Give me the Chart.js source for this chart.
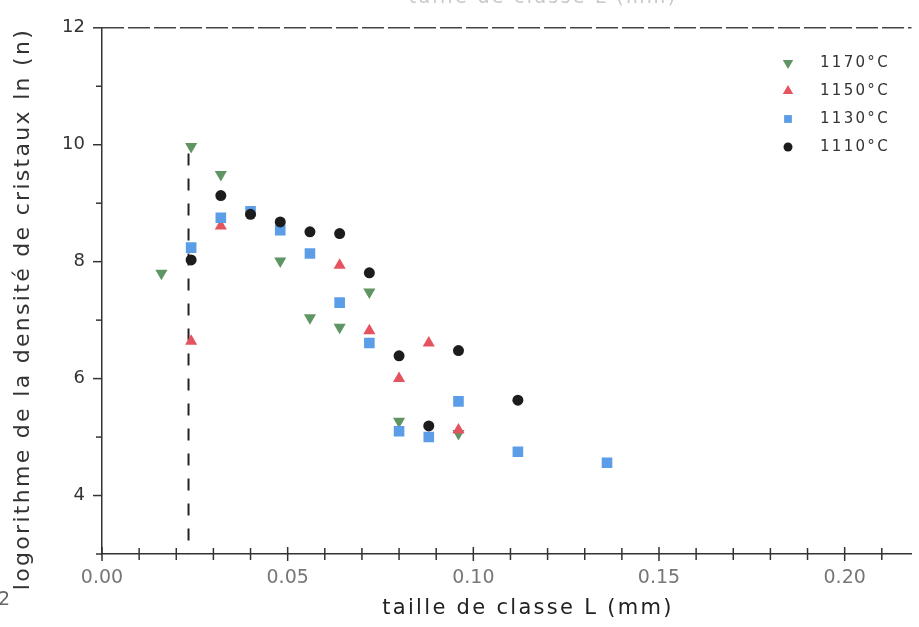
<!DOCTYPE html>
<html>
<head>
<meta charset="utf-8">
<script src="https://cdn.jsdelivr.net/npm/chart.js@4.4.0/dist/chart.umd.min.js"></script>
<style>
  html, body { margin: 0; padding: 0; background: #fff; }
  #wrap { width: 919px; height: 627px; }
</style>
</head>
<body>
<div id="wrap"><canvas id="csdChart"></canvas></div>
<script>
// class size L (mm) and ln(n) for each run temperature
var L_1170 = [0.016, 0.024, 0.032, 0.048, 0.056, 0.064, 0.072, 0.080, 0.096];
var n_1170 = [7.80, 9.97, 9.49, 8.01, 7.04, 6.88, 7.48, 5.27, 5.06];

var L_1150 = [0.024, 0.032, 0.064, 0.072, 0.080, 0.088, 0.096];
var n_1150 = [6.64, 8.61, 7.94, 6.82, 6.00, 6.61, 5.12];

var L_1130 = [0.024, 0.032, 0.040, 0.048, 0.056, 0.064, 0.072, 0.080, 0.088, 0.096, 0.112, 0.136];
var n_1130 = [8.24, 8.75, 8.86, 8.54, 8.14, 7.30, 6.61, 5.10, 5.00, 5.61, 4.75, 4.56];

var L_1110 = [0.024, 0.032, 0.040, 0.048, 0.056, 0.064, 0.072, 0.080, 0.088, 0.096, 0.112];
var n_1110 = [8.03, 9.13, 8.81, 8.68, 8.51, 8.48, 7.81, 6.39, 5.19, 6.48, 5.63];

// dashed guide line
var guideX = [0.0233, 0.0233];
var guideY = [9.85, 3];

var xMin = 0, xMax = 0.218;
var yMin = 3, yMax = 12;

var xTitle = "taille de classe L (mm)";
var yTitle = "logorithme de la densité de cristaux ln (n)";

function toPoints(xs, ys) {
    var pts = [];
    for (let i = 0; i < xs.length; i++) {
        pts.push({ x: xs[i], y: ys[i] });
    }
    return pts;
}

function isMajorX(v) {
    var h = Math.round(v * 100);
    return Math.abs(v * 100 - h) < 1e-6 && h % 5 === 0;
}

// tick marks, dashed top frame, titles and legend
const framePlugin = {
    id: "frame",
    beforeDraw(chart) {
        chart.ctx.letterSpacing = "0px";
    },
    afterDatasetsDraw(chart) {
        // x axis (z: 1) draws its labels after this
        chart.ctx.letterSpacing = "3px";
    },
    afterDraw(chart) {
        const ctx = chart.ctx;
        const area = chart.chartArea;
        const xs = chart.scales.x;
        const ys = chart.scales.y;

        function seg(x1, y1, x2, y2) {
            ctx.beginPath();
            ctx.moveTo(x1, y1);
            ctx.lineTo(x2, y2);
            ctx.stroke();
        }

        ctx.save();
        ctx.letterSpacing = "0px";
        ctx.strokeStyle = "#333";
        ctx.lineWidth = 1.5;

        ys.ticks.forEach((t) => {
            const py = ys.getPixelForValue(t.value);
            const len = t.value % 2 === 0 ? 9 : 6;
            seg(area.left - len, py, area.left, py);
        });

        xs.ticks.forEach((t) => {
            const px = xs.getPixelForValue(t.value);
            const h = isMajorX(t.value) ? 7 : 6;
            seg(px, area.bottom - h, px, area.bottom + h);
        });

        // top frame
        ctx.strokeStyle = "#444";
        ctx.setLineDash([22, 4]);
        seg(area.left, area.top, area.right, area.top);
        ctx.setLineDash([]);

        // axis titles
        ctx.letterSpacing = "2.3px";
        ctx.fillStyle = "#222";
        ctx.font = "21px 'DejaVu Sans'";
        ctx.textAlign = "center";
        ctx.textBaseline = "middle";
        ctx.fillText(xTitle, 528, 609);

        ctx.save();
        ctx.translate(23, 309);
        ctx.rotate(-Math.PI / 2);
        ctx.fillStyle = "#333";
        ctx.font = "22px 'DejaVu Sans'";
        ctx.fillText(yTitle, 0, 0);
        ctx.restore();

        // cut-off text from the neighbouring panel
        ctx.fillStyle = "#c8c8c8";
        ctx.font = "19px 'DejaVu Sans'";
        ctx.textBaseline = "alphabetic";
        ctx.fillText(xTitle, 543, 3);
        ctx.letterSpacing = "0px";
        ctx.fillStyle = "#666";
        ctx.textAlign = "left";
        ctx.textBaseline = "middle";
        ctx.fillText("2", -2, 600);

        // legend
        const rows = [63, 91, 119, 147];
        const sizes = [6, 6, 5.5, 4.5];
        ctx.font = "15px 'DejaVu Sans'";
        ctx.letterSpacing = "2.3px";
        chart.data.datasets.slice(0, 4).forEach((ds, i) => {
            ctx.fillStyle = ds.backgroundColor;
            ctx.strokeStyle = ds.backgroundColor;
            Chart.helpers.drawPoint(ctx, {
                pointStyle: ds.pointStyle,
                radius: sizes[i],
                rotation: ds.rotation || 0,
                borderWidth: 0
            }, 788, rows[i]);
            ctx.fillStyle = "#333";
            ctx.fillText(ds.label, 820, rows[i]);
        });

        ctx.restore();
        ctx.letterSpacing = "0px";
    }
};

let ctx = document.getElementById("csdChart").getContext("2d");

const chartData = {
    datasets: [{
        label: "1170°C",
        data: toPoints(L_1170, n_1170),
        pointStyle: "triangle",
        rotation: 180,
        pointRadius: 7,
        backgroundColor: "#5f9463",
        borderColor: "#5f9463",
        borderWidth: 0,
        order: 4
    },
    {
        label: "1150°C",
        data: toPoints(L_1150, n_1150),
        pointStyle: "triangle",
        pointRadius: 7,
        backgroundColor: "#e4535e",
        borderColor: "#e4535e",
        borderWidth: 0,
        order: 3
    },
    {
        label: "1130°C",
        data: toPoints(L_1130, n_1130),
        pointStyle: "rect",
        pointRadius: 7.5,
        backgroundColor: "#5b9de6",
        borderColor: "#5b9de6",
        borderWidth: 0,
        order: 2
    },
    {
        label: "1110°C",
        data: toPoints(L_1110, n_1110),
        pointStyle: "circle",
        pointRadius: 5.5,
        backgroundColor: "#1c1c1c",
        borderColor: "#1c1c1c",
        borderWidth: 0,
        order: 1
    },
    {
        type: "line",
        label: "guide",
        data: toPoints(guideX, guideY),
        showLine: true,
        borderColor: "#222",
        borderWidth: 2,
        borderDash: [12, 13],
        pointRadius: 0,
        fill: false,
        order: 5
    }]
};

const csdChart = new Chart(ctx, {
    type: "scatter",
    data: chartData,
    plugins: [framePlugin],
    options: {
        responsive: true,
        maintainAspectRatio: false,
        animation: false,
        layout: {
            padding: { top: 24, right: 0, bottom: 0, left: 0 }
        },
        scales: {
            x: {
                type: "linear",
                position: "bottom",
                min: xMin,
                max: xMax,
                z: 1,
                border: { color: "#333", width: 1.5 },
                grid: { display: false, drawTicks: false },
                ticks: {
                    stepSize: 0.01,
                    includeBounds: false,
                    autoSkip: false,
                    maxRotation: 0,
                    padding: 13,
                    color: "#777",
                    font: { family: "DejaVu Sans", size: 19 },
                    callback: function (v) {
                        return isMajorX(v) ? v.toFixed(2) : "";
                    }
                },
                afterFit: function (scale) {
                    scale.height = 73;
                }
            },
            y: {
                type: "linear",
                min: yMin,
                max: yMax,
                border: { color: "#333", width: 1.5 },
                grid: { display: false, drawTicks: false },
                ticks: {
                    stepSize: 1,
                    padding: 17,
                    color: "#333",
                    font: { family: "DejaVu Sans", size: 18 },
                    callback: function (v) {
                        return v % 2 === 0 && v >= 4 ? v : "";
                    }
                },
                afterFit: function (scale) {
                    scale.width = 102;
                }
            }
        },
        plugins: {
            legend: { display: false },
            tooltip: { enabled: false }
        }
    }
});
</script>
</body>
</html>
